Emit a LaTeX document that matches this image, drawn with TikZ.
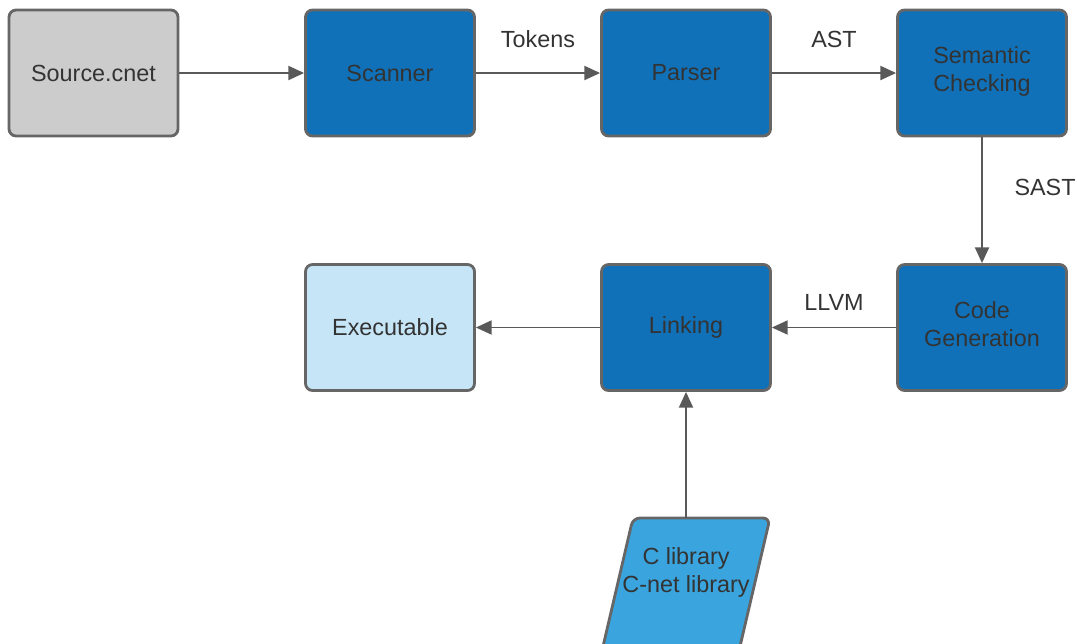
\documentclass[tikz,border=0pt]{standalone}
\usepackage{fontspec}
\setmainfont{Liberation Sans}
\usetikzlibrary{arrows.meta}
\definecolor{edgegray}{HTML}{666666}
\definecolor{arrowgray}{HTML}{595959}
\definecolor{txt}{HTML}{333333}
\definecolor{srcgray}{HTML}{CCCCCC}
\definecolor{darkblue}{HTML}{1071B9}
\definecolor{paleblue}{HTML}{C6E6F7}
\definecolor{midblue}{HTML}{3AA4DE}
\tikzset{
  box/.style={draw=edgegray, line width=1.6pt, rounded corners=4pt,
    minimum width=3.38cm, minimum height=2.52cm, align=center,
    font=\fontsize{13.3}{15.9}\selectfont, text=txt, inner sep=0pt},
  flow/.style={draw=arrowgray, line width=1.1pt, -{Triangle[length=9pt,width=8pt]}},
  lbl/.style={font=\fontsize{13.3}{15.9}\selectfont, text=txt}
}
\begin{document}
\begin{tikzpicture}[x=0.02cm, y=-0.02cm]
\useasboundingbox (0,0) rectangle (1077,643);
\node[box, fill=srcgray] (src) at (93.5,73) {Source.cnet};
\node[box, fill=darkblue] (scan) at (390,73) {Scanner};
\node[box, fill=darkblue] (parse) at (686,73) {Parser};
\node[box, fill=darkblue] (sem) at (982,73) {};
\node[lbl, align=center] (semt) at (982,71) {Semantic\\Checking};
\node[box, fill=paleblue] (exe) at (390,327.5) {Executable};
\node[box, fill=darkblue] (link) at (686,327.5) {Linking};
\node[box, fill=darkblue] (gen) at (982,327.5) {};
\node[lbl, align=center] (gent) at (982,324) {Code\\Generation};
\begin{scope}
\clip (0,0) rectangle (1077,643);
\draw[draw=edgegray, line width=1.6pt, fill=midblue, rounded corners=4pt]
  (633,518) -- (770,518) -- (738,655) -- (601,655) -- cycle;
\end{scope}
\coordinate (libtop) at (686,518);
\node[lbl, align=center] (lib) at (686,572) {C library\\C-net library};
\draw[flow] (src) -- (scan);
\draw[flow] (scan) -- (parse);
\draw[flow] (parse) -- (sem);
\draw[flow] (sem) -- (gen);
\draw[flow] (gen) -- (link);
\draw[flow] (link) -- (exe);
\draw[flow] (libtop) -- (link);
\node[lbl] (ltok) at (538,39) {Tokens};
\node[lbl] (last) at (834,39) {AST};
\node[lbl] (lsast) at (1045,187) {SAST};
\node[lbl] (lllvm) at (834,302) {LLVM};
\end{tikzpicture}
\end{document}
